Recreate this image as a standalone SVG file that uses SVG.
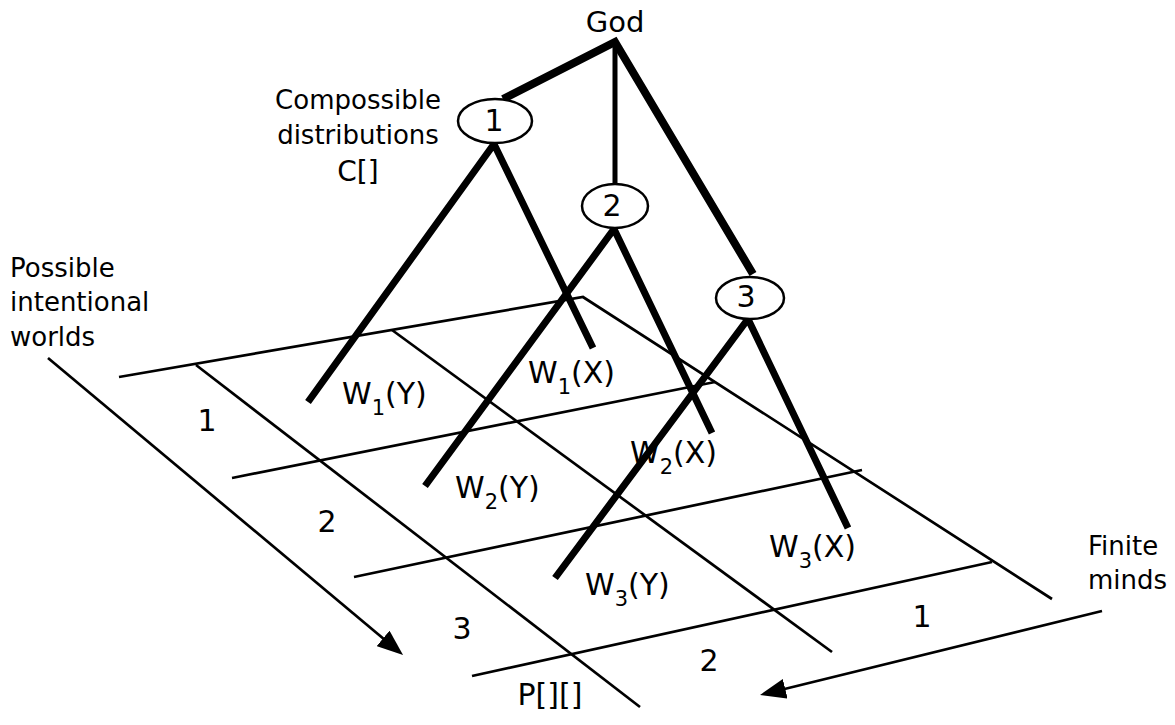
<svg xmlns="http://www.w3.org/2000/svg" width="1175" height="725" viewBox="0 0 1175 725">
<defs>
<style>
text{font-family:"DejaVu Sans","Liberation Sans",sans-serif;font-size:26px;fill:#000}
.big{font-size:30px}
.sub{font-size:21px}
.grid{fill:none;stroke:#000;stroke-width:2.7}
.thick{fill:none;stroke:#000;stroke-width:7;stroke-linejoin:miter;stroke-linecap:butt}
.node{fill:#fff;stroke:#000;stroke-width:2.5}
</style>
<marker id="ah" markerUnits="userSpaceOnUse" markerWidth="26" markerHeight="20" refX="6" refY="10" orient="auto">
<path d="M0,0 L26,10 L0,20 Z" fill="#000"/>
</marker>
</defs>
<rect width="1175" height="725" fill="#fff"/>

<g id="grid">
<polyline class="grid" points="119,377 583,297 1052,599"/>
<line class="grid" x1="232" y1="478" x2="715" y2="382"/>
<line class="grid" x1="354" y1="577" x2="862" y2="470"/>
<line class="grid" x1="472" y1="676" x2="992" y2="562"/>
<line class="grid" x1="196" y1="365" x2="640" y2="707"/>
<line class="grid" x1="392" y1="330" x2="832" y2="652"/>
</g>

<g id="connectors">
<line class="grid" x1="48" y1="358" x2="387.7" y2="642.2" marker-end="url(#ah)"/>
<line class="grid" x1="1102" y1="611" x2="779.4" y2="690.2" marker-end="url(#ah)"/>
<path class="thick" style="stroke-width:8" d="M503,99 L615,42 L753,274"/>
<line class="thick" style="stroke-width:5" x1="615" y1="42" x2="615" y2="186"/>
<path class="thick" d="M308,402 L494,144 L593,348"/>
<path class="thick" d="M425,486 L614,229 L712,433"/>
<path class="thick" d="M555,578 L748,319 L848,528"/>
</g>

<g id="god"><text x="615" y="32" text-anchor="middle" style="font-size:29px">God</text></g>

<g id="node1">
<ellipse class="node" cx="495" cy="121" rx="37" ry="22"/>
<text class="big" x="494" y="131" text-anchor="middle">1</text>
</g>
<g id="node2">
<ellipse class="node" cx="615" cy="206" rx="33" ry="22"/>
<text class="big" x="612" y="216" text-anchor="middle">2</text>
</g>
<g id="node3">
<ellipse class="node" cx="750" cy="298" rx="34" ry="21"/>
<text class="big" x="746" y="307" text-anchor="middle">3</text>
</g>

<g id="compossible">
<text x="358" y="109" text-anchor="middle">Compossible</text>
<text x="358" y="144" text-anchor="middle">distributions</text>
<text x="358" y="181" text-anchor="middle" style="font-size:28px">C[]</text>
</g>

<g id="worlds-label">
<text x="10" y="277">Possible</text>
<text x="10" y="311">intentional</text>
<text x="10" y="346">worlds</text>
</g>

<g id="minds-label">
<text x="1088" y="555">Finite</text>
<text x="1088" y="589">minds</text>
</g>

<g id="row-labels">
<text class="big" x="207" y="431" text-anchor="middle">1</text>
<text class="big" x="327" y="532" text-anchor="middle">2</text>
<text class="big" x="462" y="639" text-anchor="middle">3</text>
<text class="big" x="550" y="705" text-anchor="middle">P[][]</text>
</g>

<g id="col-labels">
<text class="big" x="922" y="627" text-anchor="middle">1</text>
<text class="big" x="709" y="671" text-anchor="middle">2</text>
</g>

<g id="w-labels">
<text class="big" x="342" y="404">W<tspan class="sub" dy="11">1</tspan><tspan dy="-11">(Y)</tspan></text>
<text class="big" x="528" y="383">W<tspan class="sub" dy="11">1</tspan><tspan dy="-11">(X)</tspan></text>
<text class="big" x="455" y="498">W<tspan class="sub" dy="11">2</tspan><tspan dy="-11">(Y)</tspan></text>
<text class="big" x="630" y="463">W<tspan class="sub" dy="11">2</tspan><tspan dy="-11">(X)</tspan></text>
<text class="big" x="585" y="595">W<tspan class="sub" dy="11">3</tspan><tspan dy="-11">(Y)</tspan></text>
<text class="big" x="769" y="557">W<tspan class="sub" dy="11">3</tspan><tspan dy="-11">(X)</tspan></text>
</g>
</svg>
